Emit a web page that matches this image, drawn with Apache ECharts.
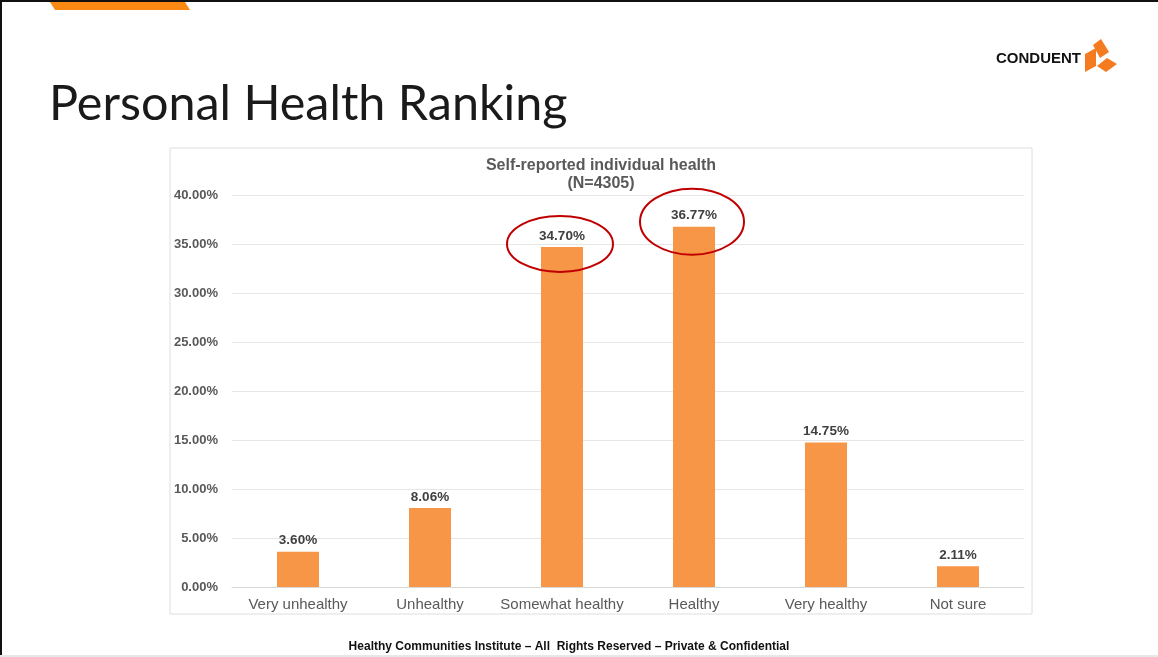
<!DOCTYPE html>
<html>
<head>
<meta charset="utf-8">
<script src="https://cdn.jsdelivr.net/npm/echarts@6/dist/echarts.min.js"></script>
<style>
  html, body { margin: 0; padding: 0; background: #ffffff; }
  #chart { width: 1158px; height: 657px; }
</style>
</head>
<body>
<div id="chart"></div>
<script>
// Survey answers and their shares (%)
const categories = ['Very unhealthy', 'Unhealthy', 'Somewhat healthy', 'Healthy', 'Very healthy', 'Not sure'];
const shares = [3.60, 8.06, 34.70, 36.77, 14.75, 2.11];
// Answers highlighted with a red ring
const highlighted = ['Somewhat healthy', 'Healthy'];

const chart = echarts.init(document.getElementById('chart'), null, { renderer: 'canvas' });

const baseFont = '"Liberation Sans", Arial, sans-serif';
const brandOrange = '#f47b20';

const slideGraphics = [
  // slide frame
  { type: 'rect', shape: { x: 0, y: 0, width: 2, height: 657 }, style: { fill: '#111' }, z: 10 },
  { type: 'rect', shape: { x: 0, y: 0, width: 1158, height: 2 }, style: { fill: '#111' }, z: 10 },
  { type: 'rect', shape: { x: 0, y: 655, width: 1158, height: 2 }, style: { fill: '#e8e8e8' }, z: 10 },
  // accent tab at the top
  { type: 'polygon', shape: { points: [[50, 2], [185, 2], [190, 10], [55, 10]] }, style: { fill: '#fb8a14' }, z: 10 },
  // heading
  { type: 'text', x: 49, y: 104, style: { text: 'Personal Health Ranking', font: '48.5px Lato, "Open Sans", sans-serif', fill: '#1a1a1a', textVerticalAlign: 'middle' }, z: 10 },
  // logo
  { type: 'text', x: 996, y: 59, style: { text: 'CONDUENT', font: 'bold 15px ' + baseFont, fill: '#111', textVerticalAlign: 'middle' }, z: 10 },
  { type: 'polygon', shape: { points: [[1085, 54], [1096, 48], [1096, 66], [1085, 72]] }, style: { fill: brandOrange }, z: 10 },
  { type: 'polygon', shape: { points: [[1093, 45], [1101, 39], [1109, 52], [1100, 58]] }, style: { fill: brandOrange }, z: 10 },
  { type: 'polygon', shape: { points: [[1097, 66], [1107, 58], [1117, 64], [1106, 72]] }, style: { fill: brandOrange }, z: 10 },
  // chart frame
  { type: 'rect', shape: { x: 170, y: 148, width: 862, height: 466 }, style: { fill: '#fff', stroke: '#dedede', lineWidth: 1 }, z: -10 },
  // chart title
  { type: 'text', x: 601, y: 175, style: { text: 'Self-reported individual health\n(N=4305)', font: 'bold 16px ' + baseFont, fill: '#595959', align: 'center', verticalAlign: 'middle', lineHeight: 18 }, z: 10 },
  // footer
  { type: 'text', x: 569, y: 647, style: { text: 'Healthy Communities Institute \u2013 All  Rights Reserved \u2013 Private & Confidential', font: 'bold 12px ' + baseFont, fill: '#111', align: 'center', verticalAlign: 'middle' }, z: 10 }
];

chart.setOption({
  animation: false,
  backgroundColor: '#ffffff',
  grid: { left: 232, right: 134, top: 195, bottom: 70, containLabel: false },
  xAxis: {
    type: 'category',
    data: categories,
    axisLine: { lineStyle: { color: '#d9d9d9' } },
    axisTick: { show: false },
    axisLabel: { interval: 0, color: '#595959', fontSize: 15, fontFamily: baseFont, margin: 10 }
  },
  yAxis: {
    type: 'value',
    min: 0, max: 40, interval: 5,
    axisLine: { show: false },
    axisTick: { show: false },
    splitLine: { lineStyle: { color: '#e6e6e6' } },
    axisLabel: {
      color: '#595959', fontSize: 13, fontWeight: 'bold', fontFamily: baseFont, margin: 14,
      formatter: v => v.toFixed(2) + '%'
    }
  },
  series: [{
    type: 'bar',
    data: shares,
    barWidth: 42,
    itemStyle: { color: '#f79646' },
    label: {
      show: true, position: 'top', distance: 4,
      color: '#404040', fontSize: 13.5, fontWeight: 'bold', fontFamily: baseFont,
      formatter: p => p.value.toFixed(2) + '%'
    }
  }],
  graphic: slideGraphics
});

// red rings around the highlighted value labels
const ringSizes = [{ rx: 53, ry: 28, dy: -3 }, { rx: 52, ry: 33, dy: -5 }];
const rings = highlighted.map((name, k) => {
  const i = categories.indexOf(name);
  const [px, py] = chart.convertToPixel({ gridIndex: 0 }, [name, shares[i]]);
  const s = ringSizes[k];
  return {
    type: 'ellipse',
    shape: { cx: px - 2, cy: py + s.dy, rx: s.rx, ry: s.ry },
    style: { fill: 'none', stroke: '#c00000', lineWidth: 2 },
    z: 20
  };
});
chart.setOption({ graphic: slideGraphics.concat(rings) });
</script>
</body>
</html>
